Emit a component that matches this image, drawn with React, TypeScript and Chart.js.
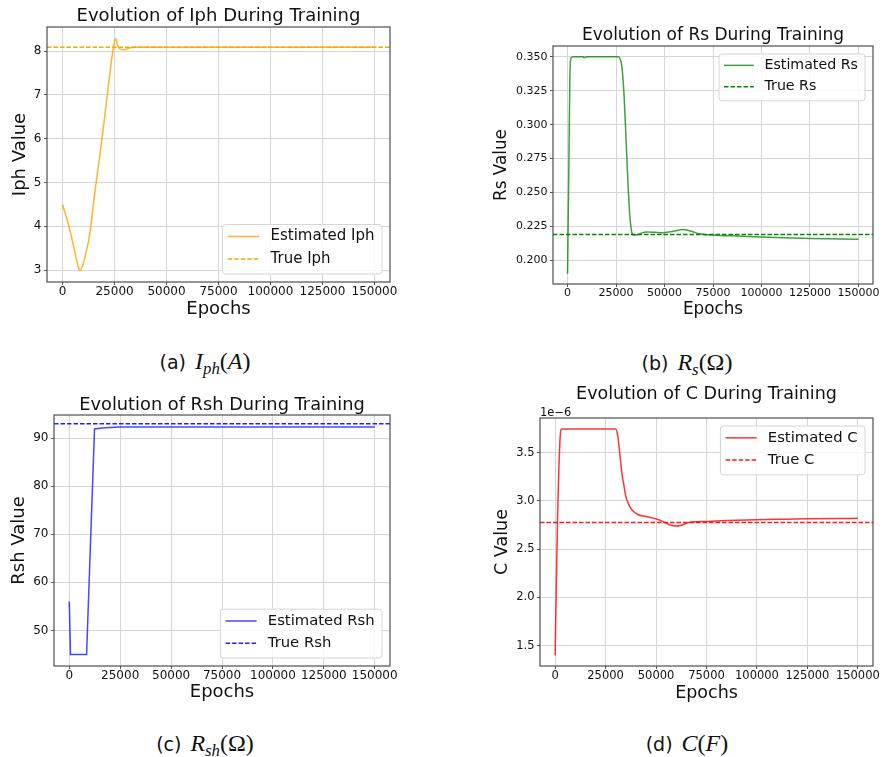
import React, { useEffect, useRef } from "react";
import { Chart, registerables } from "chart.js";

Chart.register(...registerables);

// ---------------- data ----------------
const X_MIN = -7500;
const X_MAX = 157500;
const xTicks = [0, 25000, 50000, 75000, 100000, 125000, 150000];

const iphEpochs = [0, 2000, 4000, 5500, 6500, 7500, 8300, 9300, 10500, 12000, 13000, 14000, 16000, 18000, 20000, 22000, 24000, 25500, 26500, 28000, 30000, 32000, 35000, 40000, 60000, 100000, 150000];
const iphValues = [4.5, 4.18, 3.82, 3.5, 3.28, 3.08, 2.99, 3.06, 3.25, 3.55, 3.8, 4.18, 4.95, 5.65, 6.4, 7.2, 7.95, 8.28, 8.12, 8.04, 8.03, 8.07, 8.085, 8.085, 8.085, 8.085, 8.085];
const trueIph = 8.09;
const iphTicks = [3, 4, 5, 6, 7, 8];

const rsEpochs = [0, 600, 1200, 1800, 3000, 8000, 8500, 9000, 10000, 20000, 26000, 27000, 28000, 29000, 30000, 31000, 32000, 33000, 34000, 36000, 38000, 41000, 45000, 49000, 53000, 56000, 59000, 62000, 65000, 68000, 72000, 77000, 85000, 100000, 115000, 125000, 140000, 150000];
const rsValues = [0.19, 0.26, 0.335, 0.349, 0.35, 0.35, 0.3493, 0.3497, 0.35, 0.35, 0.35, 0.349, 0.343, 0.325, 0.295, 0.262, 0.235, 0.2215, 0.2186, 0.2188, 0.22, 0.2208, 0.2206, 0.2203, 0.221, 0.2218, 0.2226, 0.2222, 0.2208, 0.2195, 0.2188, 0.2184, 0.218, 0.2171, 0.2164, 0.216, 0.2157, 0.2155];
const trueRs = 0.219;
const rsTicks = [0.2, 0.225, 0.25, 0.275, 0.3, 0.325, 0.35];

const rshEpochs = [0, 600, 8500, 12400, 16000, 20000, 25000, 50000, 100000, 150000];
const rshValues = [56, 45, 45, 91.9, 92.1, 92.2, 92.3, 92.3, 92.3, 92.3];
const trueRsh = 93.0;
const rshTicks = [50, 60, 70, 80, 90];

// C values in units of 1e-6 F
const cEpochs = [0, 1150, 2800, 3300, 10000, 20000, 30000, 31000, 32000, 33000, 34000, 35000, 36500, 38000, 41000, 45000, 49000, 52000, 55000, 58000, 60000, 62000, 64500, 67000, 75000, 85000, 100000, 115000, 125000, 140000, 150000];
const cValuesE6 = [1.4, 2.78, 3.73, 3.745, 3.745, 3.745, 3.745, 3.68, 3.5, 3.3, 3.17, 3.05, 2.96, 2.91, 2.86, 2.84, 2.82, 2.8, 2.77, 2.745, 2.74, 2.745, 2.765, 2.78, 2.788, 2.797, 2.806, 2.812, 2.816, 2.819, 2.82];
const trueCE6 = 2.778;
const cTicks = [1.5, 2.0, 2.5, 3.0, 3.5];

const captionTags = ["(a)", "(b)", "(c)", "(d)"];

// ---------------- styles ----------------
const FONT = "'DejaVu Sans', 'Noto Sans', sans-serif";
const SPINE = "#555555";
const GRID = "#d6d6d6";
const TEXT = "#111111";

type PanelCfg = {
  canvas: { left: number; top: number; w: number; h: number };
  area: { L: number; T: number; R: number; B: number };
  titleY: number;
  yTitleX: number;
  xTitleY: number;
  fs: { title: number; axis: number; tick: number; legend: number };
  title: string;
  yLabel: string;
  estLabel: string;
  trueLabel: string;
  xs: number[];
  ys: number[];
  trueValue: number;
  yMin: number;
  yMax: number;
  yTicks: number[];
  yDecimals: number;
  estColor: string;
  trueColor: string;
  legendPos: "lower right" | "upper right";
  smooth: boolean;
  offsetText?: string;
};

const panels: PanelCfg[] = [
  {
    canvas: { left: 0, top: 0, w: 441, h: 335 },
    area: { L: 47, T: 27, R: 390, B: 282 },
    titleY: 16.5, yTitleX: 20, xTitleY: 309,
    fs: { title: 18, axis: 18, tick: 12, legend: 15 },
    title: "Evolution of Iph During Training", yLabel: "Iph Value",
    estLabel: "Estimated Iph", trueLabel: "True Iph",
    xs: iphEpochs, ys: iphValues, trueValue: trueIph,
    yMin: 2.73, yMax: 8.55, yTicks: iphTicks, yDecimals: 0,
    estColor: "rgba(255,165,0,0.82)", trueColor: "#f5a800",
    legendPos: "lower right", smooth: true,
  },
  {
    canvas: { left: 441, top: 0, w: 442, h: 335 },
    area: { L: 553, T: 46, R: 873, B: 284 },
    titleY: 36, yTitleX: 502, xTitleY: 310,
    fs: { title: 17, axis: 16.8, tick: 11, legend: 14.2 },
    title: "Evolution of Rs During Training", yLabel: "Rs Value",
    estLabel: "Estimated Rs", trueLabel: "True Rs",
    xs: rsEpochs, ys: rsValues, trueValue: trueRs,
    yMin: 0.1825, yMax: 0.358, yTicks: rsTicks, yDecimals: 3,
    estColor: "rgba(0,128,0,0.75)", trueColor: "#0a850a",
    legendPos: "upper right", smooth: true,
  },
  {
    canvas: { left: 0, top: 380, w: 441, h: 335 },
    area: { L: 54, T: 415, R: 390, B: 666 },
    titleY: 405, yTitleX: 19.5, xTitleY: 692.5,
    fs: { title: 17.8, axis: 18, tick: 12, legend: 14.8 },
    title: "Evolution of Rsh During Training", yLabel: "Rsh Value",
    estLabel: "Estimated Rsh", trueLabel: "True Rsh",
    xs: rshEpochs, ys: rshValues, trueValue: trueRsh,
    yMin: 42.6, yMax: 94.8, yTicks: rshTicks, yDecimals: 0,
    estColor: "rgba(0,0,255,0.72)", trueColor: "#2020ff",
    legendPos: "lower right", smooth: false,
  },
  {
    canvas: { left: 441, top: 380, w: 442, h: 335 },
    area: { L: 540, T: 418, R: 873, B: 666 },
    titleY: 394, yTitleX: 502.7, xTitleY: 693,
    fs: { title: 17.5, axis: 17.5, tick: 11.5, legend: 14.8 },
    title: "Evolution of C During Training", yLabel: "C Value",
    estLabel: "Estimated C", trueLabel: "True C",
    xs: cEpochs, ys: cValuesE6, trueValue: trueCE6,
    yMin: 1.29, yMax: 3.86, yTicks: cTicks, yDecimals: 1,
    estColor: "rgba(255,0,0,0.8)", trueColor: "#ff1a1a",
    legendPos: "upper right", smooth: true, offsetText: "1e\u22126",
  },
];

// ---------------- plugin: spines, legend, offset text ----------------
const decoPlugin = {
  id: "deco",
  afterDraw(chart: any, _args: any, opts: any) {
    const { ctx, chartArea: ca } = chart;
    ctx.save();
    // spines
    ctx.strokeStyle = SPINE;
    ctx.lineWidth = 1.25;
    ctx.setLineDash([]);
    ctx.strokeRect(ca.left, ca.top, ca.right - ca.left, ca.bottom - ca.top);

    if (opts.offsetText) {
      ctx.font = `${opts.tickSize}px ${FONT}`;
      ctx.fillStyle = TEXT;
      ctx.textAlign = "left";
      ctx.textBaseline = "alphabetic";
      ctx.fillText(opts.offsetText, ca.left, ca.top - 2);
    }

    // legend
    const f = opts.legendSize;
    ctx.font = `${f}px ${FONT}`;
    const ds = chart.data.datasets;
    const tw = Math.max(...ds.map((d: any) => ctx.measureText(d.label).width));
    const padL = 0.35 * f, hl = 2.1 * f, gap = 0.75 * f, padR = 0.5 * f;
    const bw = padL + hl + gap + tw + padR;
    const bh = 3.3 * f;
    const inset = 8;
    const bx = ca.right - inset - bw;
    const by = opts.legendPos === "lower right" ? ca.bottom - inset - bh : ca.top + inset;
    const r = 3;
    ctx.beginPath();
    ctx.moveTo(bx + r, by);
    ctx.lineTo(bx + bw - r, by);
    ctx.arcTo(bx + bw, by, bx + bw, by + r, r);
    ctx.lineTo(bx + bw, by + bh - r);
    ctx.arcTo(bx + bw, by + bh, bx + bw - r, by + bh, r);
    ctx.lineTo(bx + r, by + bh);
    ctx.arcTo(bx, by + bh, bx, by + bh - r, r);
    ctx.lineTo(bx, by + r);
    ctx.arcTo(bx, by, bx + r, by, r);
    ctx.closePath();
    ctx.fillStyle = "rgba(255,255,255,0.85)";
    ctx.fill();
    ctx.strokeStyle = "#d4d4d4";
    ctx.lineWidth = 1;
    ctx.stroke();

    ds.forEach((d: any, i: number) => {
      const y = by + 0.8 * f + i * 1.5 * f;
      ctx.beginPath();
      ctx.strokeStyle = d.borderColor;
      ctx.lineWidth = d.borderWidth;
      ctx.setLineDash(d.borderDash || []);
      ctx.moveTo(bx + padL, y);
      ctx.lineTo(bx + padL + hl, y);
      ctx.stroke();
      ctx.setLineDash([]);
      ctx.fillStyle = TEXT;
      ctx.textAlign = "left";
      ctx.textBaseline = "middle";
      ctx.fillText(d.label, bx + padL + hl + gap, y);
    });
    ctx.restore();
  },
};

function buildChart(canvas: HTMLCanvasElement, p: PanelCfg) {
  const W = p.canvas.w, H = p.canvas.h;
  const Lr = p.area.L - p.canvas.left;
  const Tr = p.area.T - p.canvas.top;
  const Rr = p.area.R - p.canvas.left;
  const Br = p.area.B - p.canvas.top;
  const tLH = p.fs.title * 1.2;
  const aLH = p.fs.axis * 1.2;
  const titleTop = p.titleY - p.canvas.top - tLH / 2;
  const titleBottom = Tr - titleTop - tLH;
  const yTitlePad = p.yTitleX - p.canvas.left - aLH / 2;
  const xTitlePad = H - (p.xTitleY - p.canvas.top) - aLH / 2;

  return new Chart(canvas, {
    type: "line",
    data: {
      datasets: [
        {
          label: p.estLabel,
          data: p.xs.map((x, i) => ({ x, y: p.ys[i] })),
          borderColor: p.estColor,
          borderWidth: 1.5,
          pointRadius: 0,
          fill: false,
          tension: 0,
          cubicInterpolationMode: p.smooth ? "monotone" : "default",
        },
        {
          label: p.trueLabel,
          data: [
            { x: X_MIN, y: p.trueValue },
            { x: X_MAX, y: p.trueValue },
          ],
          borderColor: p.trueColor,
          borderWidth: 1.5,
          borderDash: [4.5, 2],
          pointRadius: 0,
          fill: false,
        },
      ],
    } as any,
    options: {
      animation: false,
      responsive: false,
      maintainAspectRatio: false,
      events: [],
      layout: { padding: { left: 0, top: 0, right: W - Rr, bottom: 0 } },
      plugins: {
        legend: { display: false },
        tooltip: { enabled: false },
        title: {
          display: true,
          text: p.title,
          fullSize: false,
          color: TEXT,
          font: { family: FONT, size: p.fs.title, weight: "normal", lineHeight: 1.2 },
          padding: { top: titleTop, bottom: titleBottom },
        },
        deco: {
          legendSize: p.fs.legend,
          legendPos: p.legendPos,
          tickSize: p.fs.tick,
          offsetText: p.offsetText,
        },
      } as any,
      scales: {
        x: {
          type: "linear",
          position: "bottom",
          min: X_MIN,
          max: X_MAX,
          afterFit: (s: any) => {
            s.height = H - Br;
          },
          afterBuildTicks: (s: any) => {
            s.ticks = xTicks.map((v) => ({ value: v }));
          },
          ticks: {
            autoSkip: false,
            maxRotation: 0,
            padding: 0,
            color: TEXT,
            font: { family: FONT, size: p.fs.tick },
            callback: (v: any) => String(v),
          },
          grid: { color: GRID, lineWidth: 1, tickLength: 3, tickColor: SPINE },
          border: { display: false },
          title: {
            display: true,
            text: "Epochs",
            color: TEXT,
            font: { family: FONT, size: p.fs.axis, lineHeight: 1.2 },
            padding: { top: 0, bottom: xTitlePad },
          },
        },
        y: {
          type: "linear",
          position: "left",
          min: p.yMin,
          max: p.yMax,
          afterFit: (s: any) => {
            s.width = Lr;
          },
          afterBuildTicks: (s: any) => {
            s.ticks = p.yTicks.map((v) => ({ value: v }));
          },
          ticks: {
            autoSkip: false,
            padding: 2.5,
            color: TEXT,
            font: { family: FONT, size: p.fs.tick },
            callback: (v: any) => Number(v).toFixed(p.yDecimals),
          },
          grid: { color: GRID, lineWidth: 1, tickLength: 3, tickColor: SPINE },
          border: { display: false },
          title: {
            display: true,
            text: p.yLabel,
            color: TEXT,
            font: { family: FONT, size: p.fs.axis, lineHeight: 1.2 },
            padding: { top: yTitlePad, bottom: 0 },
          },
        },
      },
    } as any,
    plugins: [decoPlugin as any],
  });
}

function Panel({ p }: { p: PanelCfg }) {
  const ref = useRef<HTMLCanvasElement | null>(null);
  useEffect(() => {
    if (!ref.current) return;
    const chart = buildChart(ref.current, p);
    return () => chart.destroy();
  }, [p]);
  return (
    <canvas
      ref={ref}
      width={p.canvas.w}
      height={p.canvas.h}
      style={{
        position: "absolute",
        left: p.canvas.left,
        top: p.canvas.top,
        width: p.canvas.w,
        height: p.canvas.h,
      }}
    />
  );
}

const MATH = "'Liberation Serif', 'DejaVu Serif', serif";
const sub: React.CSSProperties = { fontSize: "70%", verticalAlign: "-0.3em", lineHeight: 0, fontStyle: "italic" };

const captionMath: React.ReactNode[] = [
  <>
    <i>I</i>
    <span style={sub}>ph</span>(<i>A</i>)
  </>,
  <>
    <i>R</i>
    <span style={sub}>s</span>(Ω)
  </>,
  <>
    <i>R</i>
    <span style={sub}>sh</span>(Ω)
  </>,
  <>
    <i>C</i>(<i>F</i>)
  </>,
];

const captionPos = [
  { cx: 205, cy: 361 },
  { cx: 687, cy: 362 },
  { cx: 205, cy: 743 },
  { cx: 687, cy: 743 },
];

export default function App() {
  return (
    <div
      style={{
        position: "absolute",
        left: 0,
        top: 0,
        width: 883,
        height: 757,
        background: "#ffffff",
        overflow: "hidden",
      }}
    >
      {panels.map((p, i) => (
        <Panel key={i} p={p} />
      ))}
      {captionPos.map((c, i) => (
        <div
          key={"cap" + i}
          style={{
            position: "absolute",
            left: c.cx - 120,
            width: 240,
            top: c.cy - 15,
            height: 30,
            lineHeight: "30px",
            textAlign: "center",
            whiteSpace: "nowrap",
            color: "#111",
          }}
        >
          <span style={{ fontFamily: FONT, fontSize: 19 }}>{captionTags[i]}</span>
          <span style={{ fontFamily: MATH, fontSize: 24, marginLeft: 9 }}>{captionMath[i]}</span>
        </div>
      ))}
    </div>
  );
}
